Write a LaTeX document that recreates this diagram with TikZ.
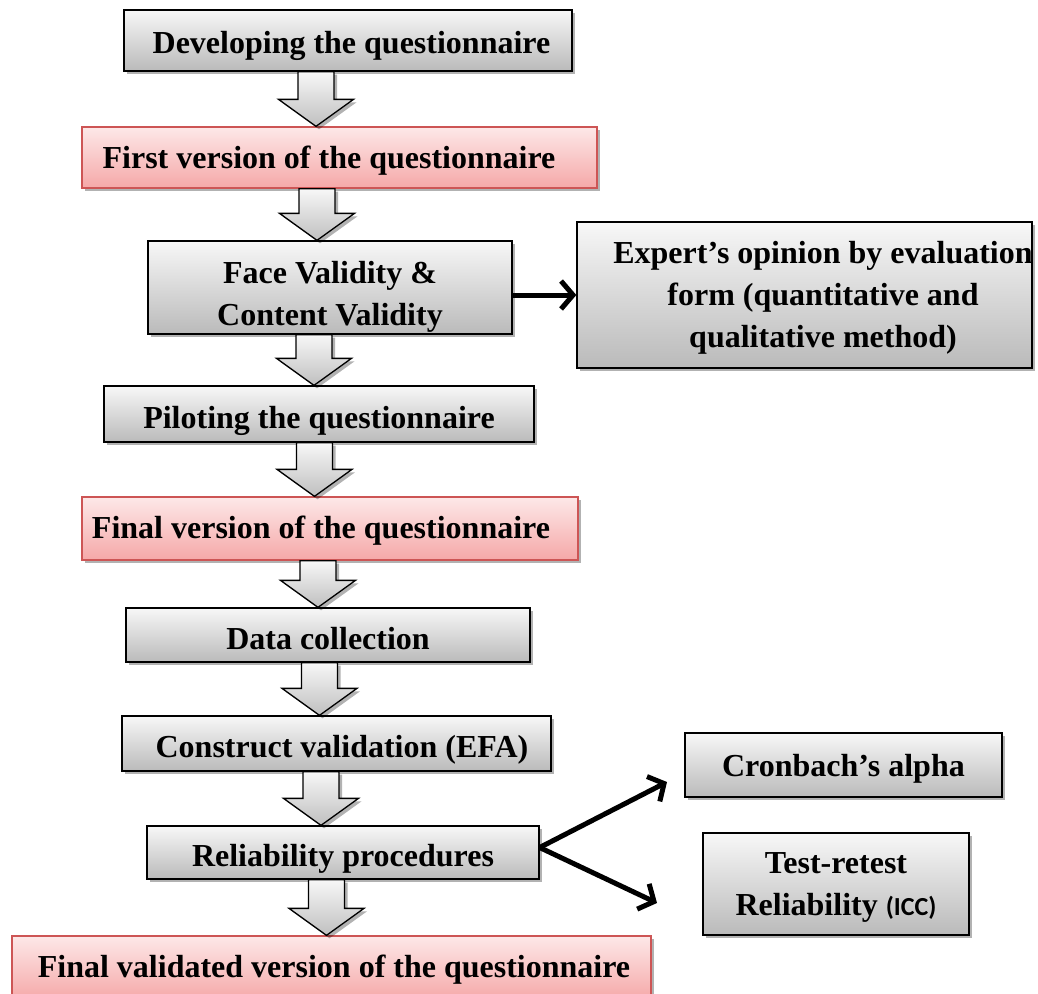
\documentclass[tikz,border=0pt]{standalone}
\usepackage{fontspec}
\setmainfont{Liberation Serif}
\newfontfamily\iccfont{Carlito}
\usetikzlibrary{arrows.meta,shadows,calc}
\definecolor{redline}{RGB}{205,85,85}
\definecolor{pinktop}{RGB}{253,232,232}
\definecolor{pinkbot}{RGB}{245,168,168}
\newcommand\blockarrow[3]{%
  \draw[barr] let \p1=(#2.south), \p2=(#3.north) in
    (#1pt-18pt,\y1) -- (#1pt+18pt,\y1) -- (#1pt+18pt,\y2+27pt) -- (#1pt+37.5pt,\y2+27pt)
    -- (#1pt,\y2) -- (#1pt-37.5pt,\y2+27pt) -- (#1pt-18pt,\y2+27pt) -- cycle;
}
\begin{document}
\begin{tikzpicture}[x=1pt,y=-1pt,
  shad/.style={drop shadow={shadow xshift=3pt, shadow yshift=-3pt, opacity=0.3, fill=black}},
  txt/.style={font=\bfseries\fontsize{32}{42}\selectfont, align=center, inner sep=0pt, text height=29pt, text depth=7pt},
  gbox/.style={txt, shad, draw=black, line width=1.3pt, top color=black!3, bottom color=black!27},
  rbox/.style={gbox, draw=redline, top color=pinktop, bottom color=pinkbot},
  conn/.style={line width=5pt, -{Straight Barb[length=12pt,width=28pt]}},
  barr/.style={shad, draw=black, line width=1.3pt, line join=miter, top color=black!3, bottom color=black!25}
]
\useasboundingbox (0,0) rectangle (1038,993);

\node[gbox, minimum width=448pt, minimum height=61pt, text height=32pt] (dev) at (348,40.5) {\hspace*{7pt}Developing the questionnaire};
\node[rbox, minimum width=515pt, minimum height=61pt, text height=29pt] (first) at (339.5,157.5) {First version of the questionnaire\hspace*{21pt}};
\node[gbox, minimum width=364pt, minimum height=93pt, text height=83pt] (face) at (330,287.5) {Face Validity \&\\Content Validity};
\node[gbox, minimum width=455pt, minimum height=146pt,
  label={[txt, xshift=18.5pt, text height=112pt]center:{Expert’s opinion by evaluation\\form (quantitative and\\qualitative method)}}] (expert) at (804.5,295) {};
\node[gbox, minimum width=430pt, minimum height=56pt, text height=35pt] (pilot) at (319,414) {Piloting the questionnaire};
\node[rbox, minimum width=496pt, minimum height=63pt, text height=26pt] (final) at (330,528.5) {Final version of the questionnaire\hspace*{18pt}};
\node[gbox, minimum width=404pt, minimum height=54pt, text height=36pt] (data) at (328,635) {Data collection};
\node[gbox, minimum width=429pt, minimum height=55pt, text height=34pt] (cons) at (336.5,743.5) {\hspace*{11pt}Construct validation (EFA)};
\node[gbox, minimum width=392pt, minimum height=53pt, text height=34pt] (reli) at (343,852.5) {Reliability procedures};
\node[rbox, minimum width=639pt, minimum height=64pt, text height=25pt] (fv) at (331.5,968) {\hspace*{5pt}Final validated version of the questionnaire};
\node[gbox, minimum width=317pt, minimum height=64pt, text height=29pt] (cron) at (843.5,765) {Cronbach’s alpha};
\node[gbox, minimum width=266pt, minimum height=102pt, text height=70pt] (test) at (836,884) {Test-retest\\Reliability {\iccfont\fontsize{26}{42}\selectfont(ICC)}};

\blockarrow{316}{dev}{first}
\blockarrow{317}{first}{face}
\blockarrow{314}{face}{pilot}
\blockarrow{314.5}{pilot}{final}
\blockarrow{318}{final}{data}
\blockarrow{319.5}{data}{cons}
\blockarrow{321}{cons}{reli}
\blockarrow{326.5}{reli}{fv}

\coordinate (c1) at (667,782);
\coordinate (c2) at (657,903);
\draw[conn] (face.east |- expert.west) -- (expert.west);
\draw[conn] ([yshift=5pt]reli.east) -- (c1);
\draw[conn] ([yshift=5pt]reli.east) -- (c2);
\end{tikzpicture}
\end{document}
